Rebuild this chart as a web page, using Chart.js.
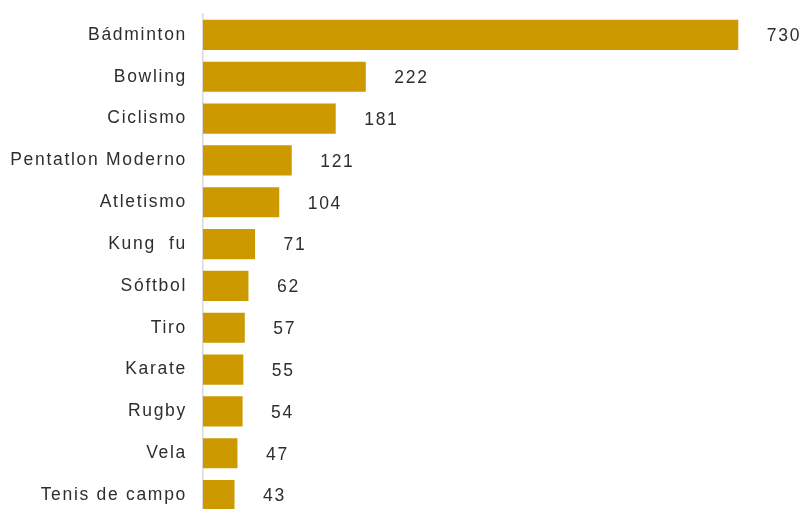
<!DOCTYPE html>
<html>
<head>
<meta charset="utf-8">
<script src="https://cdn.jsdelivr.net/npm/chart.js@4/dist/chart.umd.min.js"></script>
<style>
  html, body { margin: 0; padding: 0; background: #ffffff; overflow: hidden; }
  canvas { display: block; }
</style>
</head>
<body>
<canvas id="c" width="805" height="516" style="width:805px;height:516px"></canvas>
<script>
const categories = ["Bádminton", "Bowling", "Ciclismo", "Pentatlon Moderno", "Atletismo", "Kung  fu", "Sóftbol", "Tiro", "Karate", "Rugby", "Vela", "Tenis de campo"];
const values = [730, 222, 181, 121, 104, 71, 62, 57, 55, 54, 47, 43];

const FONT = "'Liberation Sans', Arial, sans-serif";
const TEXT_COLOR = "#2e2e2e";
const SPACING = "1.7px";
const FONT_SIZE = 17.5;

const spacingPlugin = {
  id: 'spacing',
  beforeInit(chart) { chart.ctx.letterSpacing = SPACING; },
  beforeUpdate(chart) { chart.ctx.letterSpacing = SPACING; },
  beforeDraw(chart) { chart.ctx.letterSpacing = SPACING; }
};

const valueLabels = {
  id: 'valueLabels',
  afterDatasetsDraw(chart) {
    const ctx = chart.ctx;
    const meta = chart.getDatasetMeta(0);
    ctx.save();
    ctx.letterSpacing = SPACING;
    ctx.font = FONT_SIZE + "px " + FONT;
    ctx.fillStyle = TEXT_COLOR;
    ctx.textAlign = 'left';
    ctx.textBaseline = 'middle';
    meta.data.forEach((bar, i) => {
      ctx.fillText(String(values[i]), bar.x + 28.5, bar.y + 1.5);
    });
    ctx.restore();
  }
};

new Chart(document.getElementById('c'), {
  type: 'bar',
  data: {
    labels: categories,
    datasets: [{
      data: values,
      backgroundColor: '#CC9900',
      borderWidth: 0,
      barPercentage: 0.72,
      categoryPercentage: 1.0
    }]
  },
  options: {
    indexAxis: 'y',
    responsive: false,
    maintainAspectRatio: false,
    devicePixelRatio: 1,
    animation: false,
    layout: { padding: { top: 14, right: 15.4, bottom: 0, left: 0 } },
    plugins: { legend: { display: false }, tooltip: { enabled: false } },
    scales: {
      x: {
        display: false,
        min: 0,
        max: 800
      },
      y: {
        afterFit(scale) {
          scale.width = 203;
          scale.paddingTop = 0;
          scale.paddingBottom = 0;
        },
        grid: { display: false, drawTicks: false },
        border: { display: true, color: '#d9d9d9', width: 1.5 },
        ticks: {
          padding: 16,
          color: TEXT_COLOR,
          font: { family: FONT, size: FONT_SIZE }
        }
      }
    }
  },
  plugins: [spacingPlugin, valueLabels]
});
</script>
</body>
</html>
